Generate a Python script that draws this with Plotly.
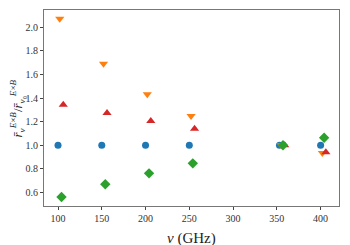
import plotly.graph_objects as go

freqs = [100, 150, 200, 250, 353, 400]
offsets = {"blue": 0, "orange": 2, "green": 4, "red": 6}
blue_vals = [1.0, 1.0, 1.0, 1.0, 1.0, 1.0]
orange_vals = [2.073, 1.691, 1.432, 1.248, 1.0, 0.934]
green_vals = [0.56, 0.668, 0.761, 0.846, 1.0, 1.063]
red_vals = [1.344, 1.273, 1.205, 1.14, 1.0, 0.94]
x_ticks = [100, 150, 200, 250, 300, 350, 400]
y_ticks = [0.6, 0.8, 1.0, 1.2, 1.4, 1.6, 1.8, 2.0]

series = [
    ("blue", blue_vals, "#1f77b4", "circle", 7),
    ("orange", orange_vals, "#ff7f0e", "triangle-down", 8),
    ("red", red_vals, "#d62728", "triangle-up", 8),
    ("green", green_vals, "#2ca02c", "diamond", 8),
]

fig = go.Figure()
for name, vals, color, sym, size in series:
    fig.add_trace(go.Scatter(
        x=[f + offsets[name] for f in freqs], y=vals, mode="markers",
        marker=dict(color=color, symbol=sym, size=size, line=dict(width=0)),
        name=name, showlegend=False))

font = "Liberation Serif"
axis_common = dict(showgrid=False, zeroline=False, showline=True, linecolor="#777",
                   linewidth=1, mirror=True, ticks="outside", ticklen=3, tickcolor="#444",
                   automargin=False,
                   tickfont=dict(family=font, size=10, color="#333"))
# page body has an 8px margin, so the figure is sized 8px smaller
fig.update_layout(
    width=342, height=237,
    margin=dict(l=36, r=11, t=2, b=39),
    paper_bgcolor="white", plot_bgcolor="white",
    font=dict(family=font),
    xaxis=dict(range=[84, 421], tickvals=x_ticks, **axis_common),
    yaxis=dict(range=[0.484, 2.147], tickvals=y_ticks, tickformat=".1f", **axis_common),
)
fig.add_annotation(text="<i>ν</i> (GHz)", xref="paper", yref="paper", x=0.5, y=-0.11,
                   xanchor="center", yanchor="top", showarrow=False,
                   font=dict(family=font, size=15, color="#222"))
fig.add_annotation(text="<i>r̄</i><sub><i>ν</i></sub><sup><i>E</i>×<i>B</i></sup>/<i>r̄</i><sub><i>ν</i>₀</sub><sup><i>E</i>×<i>B</i></sup>",
                   xref="paper", yref="paper", x=-0.09, y=0.5, textangle=-90,
                   xanchor="center", yanchor="middle", showarrow=False,
                   font=dict(family=font, size=13, color="#222"))
fig.write_html("out.html")
